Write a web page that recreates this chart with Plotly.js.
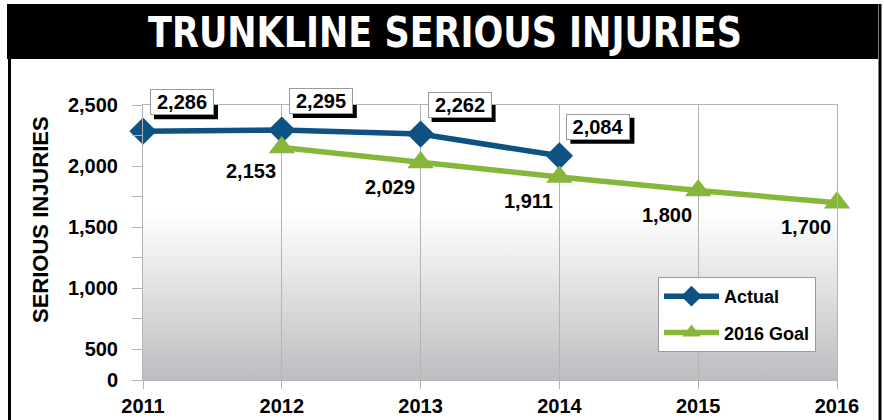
<!DOCTYPE html>
<html>
<head>
<meta charset="utf-8">
<script src="https://cdn.plot.ly/plotly-3.0.1.min.js"></script>
<style>
  html, body { margin: 0; padding: 0; background: #ffffff; }
  #chart { width: 884px; height: 420px; }
</style>
</head>
<body>
<div id="chart"></div>
<script>
// ---- data ----
const years = [2011, 2012, 2013, 2014, 2015, 2016];
const actualYears = [2011, 2012, 2013, 2014];
const actualValues = [2286, 2295, 2262, 2084];
const goalYears = [2012, 2013, 2014, 2015, 2016];
const goalValues = [2153, 2029, 1911, 1800, 1700];
const yTickVals = [250, 500, 750, 1000, 1250, 1500, 1750, 2000, 2250, 2500];
const yTickText = ["0", "500", "", "1,000", "", "1,500", "", "2,000", "", "2,500"];
const titleText = "TRUNKLINE SERIOUS INJURIES";
const yTitle = "SERIOUS INJURIES";

// ---- layout geometry ----
const W = 884, H = 420;
const M = { l: 143, r: 47, t: 105, b: 40 };
const PW = W - M.l - M.r, PH = H - M.t - M.b;
const px2x = p => (p - M.l) / PW;
const py2y = p => (H - M.b - p) / PH;

const BLUE = "#0D5282";
const GREEN = "#86B73B";
const GRID = "#B4B4B4";
const FONT = "Liberation Sans, Arial, Helvetica, sans-serif";
const fmt = v => v.toLocaleString("en-US");

const gradSvg = '<svg xmlns="http://www.w3.org/2000/svg" width="100" height="100" preserveAspectRatio="none">' +
  '<defs><linearGradient id="g" x1="0" y1="0" x2="0" y2="1">' +
  '<stop offset="0" stop-color="#ffffff"/><stop offset="0.39" stop-color="#ffffff"/>' +
  '<stop offset="1" stop-color="#BCBDC0"/></linearGradient></defs>' +
  '<rect x="0" y="0" width="100" height="100" fill="url(#g)"/></svg>';
const gradSrc = "data:image/svg+xml;charset=utf-8," + encodeURIComponent(gradSvg);

const traces = [
  {
    x: actualYears, y: actualValues, name: "Actual", type: "scatter", mode: "lines+markers",
    legendgroup: "a",
    line: { color: BLUE, width: 5.5 },
    marker: { symbol: "diamond", size: 21, color: BLUE },
    cliponaxis: false
  },
  {
    x: goalYears, y: goalValues, name: "2016 Goal", type: "scatter", mode: "lines+markers",
    legendgroup: "b",
    line: { color: GREEN, width: 5.5 },
    marker: { symbol: "triangle-up", size: 23, color: GREEN },
    cliponaxis: false
  }
];

// boxed labels for Actual: box centre offset from point, box size (px)
const BOX_DX = 39, BOX_DY = 29, BOX_W = 64, BOX_H = 26, SH = 4;
const annotations = [];
const shapes = [];
actualYears.forEach((yr, i) => {
  shapes.push({
    type: "rect", xref: "x", yref: "y", layer: "above",
    xsizemode: "pixel", ysizemode: "pixel", xanchor: yr, yanchor: actualValues[i],
    x0: BOX_DX - BOX_W / 2 + SH, x1: BOX_DX + BOX_W / 2 + SH,
    y0: BOX_DY - BOX_H / 2 - SH, y1: BOX_DY + BOX_H / 2 - SH,
    fillcolor: "#000000", line: { width: 0 }
  });
  annotations.push({
    x: yr, y: actualValues[i], xref: "x", yref: "y", showarrow: false,
    text: fmt(actualValues[i]), xanchor: "center", yanchor: "middle",
    xshift: BOX_DX, yshift: BOX_DY,
    width: BOX_W - 6, height: BOX_H - 6, align: "center", valign: "middle",
    font: { family: FONT, size: 20, color: "#000000", weight: "bold" },
    bgcolor: "#ffffff", bordercolor: "#9A9A9A", borderwidth: 1, borderpad: 2
  });
});
goalYears.forEach((yr, i) => {
  annotations.push({
    x: yr, y: goalValues[i], xref: "x", yref: "y", showarrow: false,
    text: fmt(goalValues[i]), xanchor: "center", yanchor: "middle",
    xshift: -31, yshift: -24,
    font: { family: FONT, size: 20, color: "#000000", weight: "bold" }
  });
});
// y axis title (as rotated annotation to match its off-centre position)
annotations.push({
  xref: "paper", yref: "paper", x: px2x(40), y: py2y(220), showarrow: false,
  text: yTitle, textangle: -90, xanchor: "center", yanchor: "middle",
  font: { family: FONT, size: 22, color: "#000000", weight: "bold" }
});

shapes.unshift(
  // title bar
  { type: "rect", xref: "paper", yref: "paper", layer: "below",
    x0: px2x(7), x1: px2x(878), y0: py2y(59), y1: py2y(4),
    fillcolor: "#000000", line: { width: 0 } },
  // frame borders
  { type: "line", xref: "paper", yref: "paper",
    x0: px2x(9.5), x1: px2x(9.5), y0: py2y(4), y1: py2y(420),
    line: { color: "#000000", width: 3 } },
  { type: "line", xref: "paper", yref: "paper",
    x0: px2x(880), x1: px2x(880), y0: py2y(4), y1: py2y(420),
    line: { color: "#000000", width: 3 } }
);

const layout = {
  width: W, height: H,
  margin: M,
  paper_bgcolor: "#ffffff",
  plot_bgcolor: "rgba(0,0,0,0)",
  font: { family: FONT, color: "#000000" },
  title: {
    text: titleText,
    font: { family: "DejaVu Sans Condensed, DejaVu Sans, sans-serif", size: 43, color: "#ffffff", weight: "bold" },
    xref: "container", yref: "container", x: 445 / W, y: 1 - 32 / H,
    xanchor: "center", yanchor: "middle"
  },
  xaxis: {
    range: [2011, 2016],
    tickvals: years, ticktext: years.map(String),
    showgrid: true, gridcolor: GRID, gridwidth: 1,
    showline: true, linecolor: GRID, linewidth: 1, mirror: true,
    ticks: "outside", ticklen: 8, tickcolor: GRID,
    zeroline: false,
    tickfont: { family: FONT, size: 20, color: "#000000", weight: "bold" }
  },
  yaxis: {
    range: [250, 2500],
    tickvals: yTickVals, ticktext: yTickText,
    showgrid: false,
    showline: true, linecolor: GRID, linewidth: 1, mirror: true,
    ticks: "outside", ticklen: 10, tickcolor: GRID,
    ticklabelstandoff: 10,
    zeroline: false,
    tickfont: { family: FONT, size: 20, color: "#000000", weight: "bold" }
  },
  legend: {
    x: px2x(658), y: py2y(277), xanchor: "left", yanchor: "top",
    bgcolor: "#ffffff", bordercolor: "#9A9A9A", borderwidth: 1,
    font: { family: FONT, size: 18, color: "#000000", weight: "bold" },
    tracegroupgap: 10, itemwidth: 55
  },
  showlegend: true,
  images: [{
    source: gradSrc, xref: "paper", yref: "paper",
    x: 0, y: 1, sizex: 1, sizey: 1, sizing: "stretch",
    xanchor: "left", yanchor: "top", layer: "below"
  }],
  shapes: shapes,
  annotations: annotations
};

Plotly.newPlot("chart", traces, layout, { displayModeBar: false, staticPlot: true }).then(gd => {
  // condense the title horizontally to mimic a bold condensed face
  const t = gd.querySelector(".gtitle");
  if (t) {
    const bb = t.getBBox();
    const target = 594;
    if (bb.width > target) {
      const s = target / bb.width;
      const cx = bb.x + bb.width / 2;
      t.setAttribute("transform", "translate(" + cx + ",0) scale(" + s + ",1) translate(" + (-cx) + ",0)");
    }
  }
});
</script>
</body>
</html>
